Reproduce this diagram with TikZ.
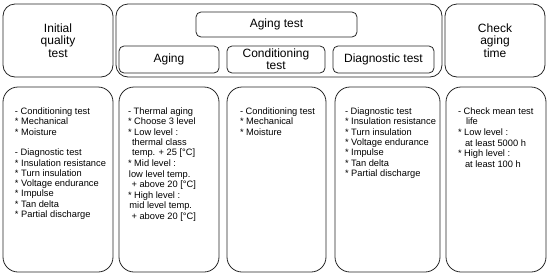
\documentclass[tikz,border=0pt]{standalone}
\usepackage{fontspec}
\setmainfont{Liberation Sans}
\begin{document}
\begin{tikzpicture}[x=1pt,y=-1pt,
  bigbox/.style={draw=black!85, line width=0.8pt, rounded corners=12pt, inner sep=0pt, outer sep=0pt},
  smallbox/.style={draw=black!85, line width=0.8pt, rounded corners=5pt, inner sep=0pt, outer sep=0pt},
  head/.style={font=\fontsize{12}{12.3}\selectfont, align=center},
  listtext/.style={anchor=base west, inner sep=0pt, outer sep=0pt}]
\useasboundingbox (0,0) rectangle (550,279);
% top row
\node[bigbox, head, minimum width=110pt, minimum height=73pt] (iq) at (58,40.5) {Initial\\quality\\test};
\node[bigbox, minimum width=326pt, minimum height=73pt] (agebig) at (279,40.5) {};
\node[smallbox, head, minimum width=161pt, minimum height=25pt] (agetitle) at (276.5,24.5) {Aging test};
\node[smallbox, head, minimum width=100pt, minimum height=27pt] (aging) at (169,59.5) {Aging};
\node[smallbox, head, minimum width=98pt, minimum height=27pt] (cond) at (276,59.5) {Conditioning\\test};
\node[smallbox, head, minimum width=101pt, minimum height=27pt] (diag) at (383.5,59.5) {Diagnostic test};
\node[bigbox, head, minimum width=100pt, minimum height=73pt] (check) at (495,40.5) {Check\\aging\\time};
% bottom row
\node[bigbox, rounded corners=15pt, minimum width=110pt, minimum height=185pt] (b1) at (58,179.5) {};
\node[bigbox, rounded corners=15pt, minimum width=100pt, minimum height=185pt] (b2) at (169,179.5) {};
\node[bigbox, rounded corners=15pt, minimum width=99pt, minimum height=185pt] (b3) at (276.5,179.5) {};
\node[bigbox, rounded corners=15pt, minimum width=105pt, minimum height=185pt] (b4) at (387.5,179.5) {};
\node[bigbox, rounded corners=15pt, minimum width=100pt, minimum height=185pt] (b5) at (496,179.5) {};
% lists
\node[listtext] (t1) at (15,114.5) {\parbox[t]{100pt}{\raggedright\fontsize{9.3}{10.3}\selectfont
- Conditioning test\\{}
* Mechanical\\{}
* Moisture\\[10.3pt]{}
- Diagnostic test\\{}
* Insulation resistance\\{}
* Turn insulation\\{}
* Voltage endurance\\{}
* Impulse\\{}
* Tan delta\\{}
* Partial discharge}};
\node[listtext] (t2) at (128,114.5) {\parbox[t]{92pt}{\raggedright\fontsize{9.3}{10.3}\selectfont
- Thermal aging\\{}
* Choose 3 level\\{}
* Low level :\\{}
\hspace*{4pt}thermal class\\{}
\hspace*{4pt}temp. + 25 [°C]\\[0.8pt]{}
* Mid level :\\{}
\hspace*{1pt}low level temp.\\{}
\hspace*{3.5pt}+ above 20 [°C]\\[0.8pt]{}
* High level :\\{}
\hspace*{1.5pt}mid level temp.\\{}
\hspace*{3.5pt}+ above 20 [°C]}};
\node[listtext] (t3) at (240,114.5) {\parbox[t]{85pt}{\raggedright\fontsize{9.3}{10.3}\selectfont
- Conditioning test\\{}
* Mechanical\\{}
* Moisture}};
\node[listtext] (t4) at (345,114.5) {\parbox[t]{95pt}{\raggedright\fontsize{9.3}{10.3}\selectfont
- Diagnostic test\\{}
* Insulation resistance\\{}
* Turn insulation\\{}
* Voltage endurance\\{}
* Impulse\\{}
* Tan delta\\{}
* Partial discharge}};
\node[listtext] (t5) at (458,114.5) {\parbox[t]{88pt}{\raggedright\fontsize{9.3}{10.3}\selectfont
- Check mean test\\{}
\hspace*{8pt}life\\[0.6pt]{}
* Low level :\\{}
\hspace*{7pt}at least 5000 h\\[0.6pt]{}
* High level :\\{}
\hspace*{7pt}at least 100 h}};
\end{tikzpicture}
\end{document}
